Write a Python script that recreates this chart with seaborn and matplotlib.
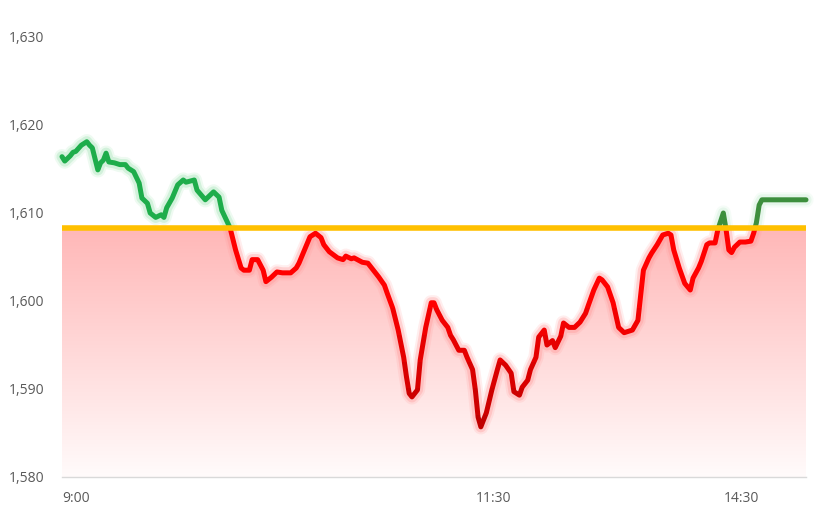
import numpy as np
import pandas as pd
import matplotlib.pyplot as plt
import seaborn as sns
from matplotlib.patches import Rectangle
from matplotlib.colors import LinearSegmentedColormap, to_rgb

# minutes of trading since 9:00 (lunch break skipped) and price
minutes = [0, 1, 3, 4, 5, 7, 9, 10, 11, 13, 14, 15, 16, 17, 19, 21, 23, 24, 26, 28,
           29, 31, 32, 34, 36, 37, 38, 40, 42, 44, 45, 48, 49, 52, 55, 57, 58, 61, 63, 65,
           66, 68, 69, 71, 73, 74, 76, 78, 80, 83, 85, 86, 88, 90, 92, 94, 95, 97, 100, 102,
           103, 105, 106, 109, 111, 113, 115, 117, 118, 120, 122, 124, 125, 126, 127, 129, 130, 132, 134, 135,
           136, 138, 140, 141, 142, 144, 146, 147, 149, 150, 151, 152, 154, 156, 158, 159, 161, 163, 164, 166,
           167, 169, 170, 172, 173, 175, 176, 178, 179, 181, 182, 184, 186, 188, 190, 191, 193, 195, 196, 198,
           200, 202, 204, 205, 207, 209, 211, 213, 214, 216, 218, 220, 221, 222, 224, 226, 228, 229, 231, 232,
           234, 235, 237, 238, 240, 241, 242, 243, 244, 246, 248, 250, 251, 252, 253, 254, 270]
price = [1616.4, 1615.9, 1616.5, 1616.9, 1617.0, 1617.7, 1618.1, 1617.7, 1617.4, 1614.9,
         1615.7, 1616.0, 1616.8, 1615.8, 1615.7, 1615.5, 1615.5, 1615.1, 1614.7, 1613.4,
         1611.7, 1611.1, 1610.0, 1609.5, 1609.8, 1609.5, 1610.6, 1611.7, 1613.2, 1613.75,
         1613.5, 1613.75, 1612.6, 1611.5, 1612.4, 1611.8, 1610.3, 1608.3, 1605.8, 1603.75,
         1603.5, 1603.5, 1604.7, 1604.7, 1603.5, 1602.2, 1602.7, 1603.3, 1603.2, 1603.2,
         1603.75, 1604.3, 1605.8, 1607.3, 1607.7, 1607.2, 1606.4, 1605.6, 1604.9, 1604.7,
         1605.1, 1604.8, 1604.9, 1604.4, 1604.3, 1603.5, 1602.7, 1601.8, 1600.9, 1599.2,
         1596.7, 1593.6, 1591.4, 1589.5, 1589.1, 1589.9, 1593.3, 1597.0, 1599.8, 1599.8,
         1599.0, 1597.8, 1597.0, 1596.1, 1595.6, 1594.4, 1594.4, 1593.6, 1592.2, 1589.9,
         1586.8, 1585.7, 1587.3, 1589.9, 1592.2, 1593.3, 1592.7, 1591.8, 1589.7, 1589.3,
         1590.2, 1591.0, 1592.2, 1593.6, 1595.9, 1596.7, 1595.0, 1595.5, 1594.7, 1596.0,
         1597.5, 1597.0, 1597.0, 1597.6, 1598.6, 1599.5, 1601.25, 1602.6, 1602.4, 1601.6,
         1599.8, 1597.0, 1596.4, 1596.5, 1596.7, 1597.8, 1603.5, 1604.9, 1605.45, 1606.4,
         1607.5, 1607.7, 1607.5, 1605.8, 1603.75, 1602.0, 1601.25, 1602.6, 1603.75, 1604.5,
         1606.4, 1606.6, 1606.6, 1608.1, 1610.0, 1608.1, 1605.8, 1605.5, 1606.1, 1606.7,
         1606.7, 1606.8, 1607.7, 1608.9, 1610.9, 1611.5, 1611.5]
prev_close = 1608.3
y_ticks = [1580, 1590, 1600, 1610, 1620, 1630]
x_ticks = [0, 150, 240]
x_labels = ['9:00', '11:30', '14:30']

df = pd.DataFrame({'minute': minutes, 'price': price})
x0, x1 = 0, 270
y0, y1 = 1580, 1630

sns.set_theme(style='white')
plt.rcParams['font.family'] = ['Open Sans', 'DejaVu Sans']

fig = plt.figure(figsize=(8.3, 5.08), dpi=100)
ax = fig.add_axes([62 / 830, 1 - 477 / 508, 744 / 830, 440 / 508])

# pink gradient under the line, below previous close
fill = ax.fill_between(df['minute'], y0, np.minimum(df['price'], prev_close),
                       color='none', lw=0)
grad = np.linspace(0, 1, 256).reshape(-1, 1)
cmap = LinearSegmentedColormap.from_list('pinkfade', ['#fffbfb', '#ffb7b7'])
im = ax.imshow(grad, extent=[x0, x1, y0, prev_close], origin='lower', cmap=cmap,
               aspect='auto', zorder=1, interpolation='bilinear')
im.set_clip_path(fill.get_paths()[0], transform=ax.transData)


def draw_line(color, glow, rect, glow_alpha=0.35):
    clip = Rectangle((rect[0], rect[1]), rect[2] - rect[0], rect[3] - rect[1],
                     transform=ax.transData, visible=False)
    ax.add_patch(clip)
    for lw, a in [(11, glow_alpha * 0.5), (8, glow_alpha), (3.6, 1)]:
        n = len(ax.lines)
        sns.lineplot(data=df, x='minute', y='price', ax=ax, estimator=None,
                     color=color if a == 1 else glow, lw=lw, alpha=a, zorder=3 if a < 1 else 4)
        for ln in ax.lines[n:]:
            ln.set_clip_path(clip)
            ln.set_solid_capstyle('round')
            ln.set_solid_joinstyle('round')


# red below previous close, darker where the price is lower
bands = np.linspace(1584, prev_close, 9)
dark, bright = np.array(to_rgb('#c00000')), np.array(to_rgb('#ff0000'))
for i in range(len(bands) - 1):
    lo = y0 - 5 if i == 0 else bands[i]
    f = min(1, i / 5)
    draw_line(tuple(dark + (bright - dark) * f), '#ff8f8f',
              (x0 - 5, lo, x1 + 5, bands[i + 1]), glow_alpha=0.3)

# green above previous close
draw_line('#1ead4b', '#9fe3b2', (x0 - 5, prev_close, 225, y1 + 5))
draw_line('#3d8f3d', '#b6e8c4', (225, prev_close, x1 + 5, y1 + 5), glow_alpha=0.25)

ax.axhline(prev_close, color='#ffc000', lw=4, zorder=5)

ax.set_xlim(x0, x1)
ax.set_ylim(y0, y1)
ax.set_yticks(y_ticks)
ax.set_yticklabels([f'{v:,}' for v in y_ticks])
ax.set_xticks(x_ticks)
ax.set_xticklabels(x_labels, ha='left')
ax.tick_params(axis='both', length=0, labelsize=10, colors='#595959')
ax.tick_params(axis='y', pad=13)
ax.tick_params(axis='x', pad=10)
ax.set_xlabel('')
ax.set_ylabel('')
sns.despine(ax=ax, left=True)
ax.spines['bottom'].set_color('#d9d9d9')
ax.spines['bottom'].set_linewidth(1)

fig.savefig('out.png', dpi=100)
